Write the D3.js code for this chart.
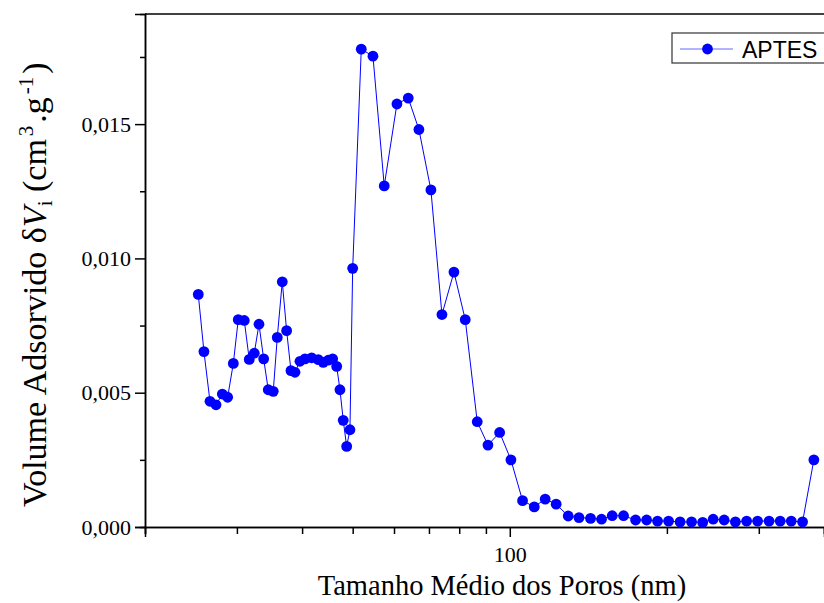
<!DOCTYPE html>
<html>
<head>
<meta charset="utf-8">
<script src="https://cdn.jsdelivr.net/npm/d3@7"></script>
<style>
  html, body { margin: 0; padding: 0; background: #fff; }
  svg { display: block; }
</style>
</head>
<body>
<svg id="chart" width="824" height="603"></svg>
<script>
// Mean pore size (nm) and adsorbed volume dV (cm3/g) for the APTES sample
const poreSize = [
  25.30, 25.94, 26.64, 27.36, 28.13, 28.80, 29.53, 30.18, 30.99, 31.68,
  32.39, 33.07, 33.76, 34.45, 35.22, 35.85, 36.65, 37.36, 38.08, 38.76,
  39.62, 40.51, 41.72, 42.96, 43.91, 44.89, 45.77, 46.59, 47.27, 47.96,
  48.69, 49.40, 50.00, 51.93, 54.68, 57.47, 60.78, 63.89, 66.97, 70.61,
  74.13, 78.16, 82.16, 86.62, 90.81, 95.62, 100.5, 105.8, 111.4, 116.9,
  122.7, 129.4, 135.7, 142.8, 149.9, 157.1, 165.2, 174.2, 182.9, 191.9,
  201.5, 212.0, 223.0, 234.2, 245.3, 257.5, 270.6, 284.3, 298.4, 313.9,
  329.7, 346.2, 363.9, 382.5
];
const adsorbedVolume = [
  0.00866, 0.00653, 0.00468, 0.00455, 0.00495, 0.00483, 0.00609, 0.00772, 0.00769, 0.00624,
  0.00647, 0.00755, 0.00626, 0.00511, 0.00505, 0.00706, 0.00913, 0.00731, 0.00582, 0.00576,
  0.00617, 0.00626, 0.00630, 0.00623, 0.00613, 0.00621, 0.00626, 0.00598, 0.00511, 0.00397,
  0.00300, 0.00362, 0.00963, 0.01779, 0.01753, 0.01270, 0.01575, 0.01597, 0.01480, 0.01255,
  0.00791, 0.00949, 0.00772, 0.00392, 0.00305, 0.00352, 0.00250, 0.00098, 0.00075, 0.00104,
  0.00085, 0.00041, 0.00035, 0.00032, 0.00029, 0.00042, 0.00042, 0.00026, 0.00026, 0.00022,
  0.00022, 0.00019, 0.00019, 0.00017, 0.00029, 0.00026, 0.00019, 0.00022, 0.00022, 0.00022,
  0.00022, 0.00022, 0.00019, 0.00250
];
const seriesName = "APTES";

// Axis ticks
const xMajorTicks = [100];
const xMinorTicks = [20, 30, 40, 50, 60, 70, 80, 90, 200, 300, 400];
const yMajorTicks = [0, 0.005, 0.010, 0.015];
const yMinorTicks = [0.0025, 0.0075, 0.0125, 0.0175];
const xDomain = [20, 400];
const yDomain = [0, 0.0191];

const svg = d3.select("#chart");
const W = 824, H = 603;
const margin = { left: 145, top: 14, right: 0, bottom: 76 };
const plotW = W - margin.left - margin.right;
const plotH = H - margin.top - margin.bottom;

const x = d3.scaleLog().domain(xDomain).range([margin.left, margin.left + plotW]);
const y = d3.scaleLinear().domain(yDomain).range([margin.top + plotH, margin.top]);

const blue = "#0000ff";
const serif = "'Liberation Serif', 'Times New Roman', serif";
const fmt = v => d3.format(".3f")(v).replace(".", ",");

// Axes
const axisG = svg.append("g");

const xMinor = axisG.append("g")
  .attr("transform", `translate(0,${margin.top + plotH})`)
  .call(d3.axisBottom(x).tickValues(xMinorTicks).tickSize(7).tickFormat(""));
const xMajor = axisG.append("g")
  .attr("transform", `translate(0,${margin.top + plotH})`)
  .call(d3.axisBottom(x).tickValues(xMajorTicks).tickSize(10).tickPadding(9).tickFormat(d3.format("d")));

const yMinor = axisG.append("g")
  .attr("transform", `translate(${margin.left},0)`)
  .call(d3.axisLeft(y).tickValues(yMinorTicks).tickSize(5).tickFormat(""));
const yMajor = axisG.append("g")
  .attr("transform", `translate(${margin.left},0)`)
  .call(d3.axisLeft(y).tickValues(yMajorTicks).tickSize(10).tickPadding(4).tickFormat(fmt));

[xMinor, xMajor, yMinor, yMajor].forEach(g => {
  g.attr("font-family", null);
  g.select(".domain").attr("stroke", "#000").attr("stroke-width", 1.5);
  g.selectAll(".tick line").attr("stroke", "#000").attr("stroke-width", 1.5);
  g.selectAll(".tick text")
    .attr("fill", "#000")
    .style("font-family", serif)
    .style("font-size", "22px");
});

// Top frame line
axisG.append("line")
  .attr("x1", margin.left).attr("x2", margin.left + plotW)
  .attr("y1", margin.top).attr("y2", margin.top)
  .attr("stroke", "#000").attr("stroke-width", 1.5);

// Axis titles
svg.append("text")
  .attr("x", 502)
  .attr("y", 595)
  .attr("text-anchor", "middle")
  .style("font-family", serif)
  .style("font-size", "28.5px")
  .text("Tamanho Médio dos Poros (nm)");

// Rotated y title, laid out from the bottom upwards
const yTitle = svg.append("text")
  .attr("transform", "translate(46,507) rotate(-90)")
  .attr("text-anchor", "start")
  .style("font-family", serif)
  .style("font-size", "34px");
yTitle.append("tspan").text("Volume Adsorvido δ");
yTitle.append("tspan").style("font-style", "italic").text("V");
yTitle.append("tspan").attr("dy", 6).style("font-size", "21px").text("i");
yTitle.append("tspan").attr("dy", -6).text(" (cm");
yTitle.append("tspan").attr("dy", -13).attr("dx", 3).style("font-size", "21px").text("3");
yTitle.append("tspan").attr("dy", 13).attr("dx", 3).text(".g");
yTitle.append("tspan").attr("dy", -13).attr("dx", 3).style("font-size", "21px").text("-1");
yTitle.append("tspan").attr("dy", 13).attr("dx", 3).text(")");

// Series
const data = poreSize.map((d, i) => ({ x: d, y: adsorbedVolume[i] }));

svg.append("path")
  .datum(data)
  .attr("fill", "none")
  .attr("stroke", blue)
  .attr("stroke-width", 1)
  .attr("d", d3.line().x(d => x(d.x)).y(d => y(d.y)));

svg.append("g")
  .selectAll("circle")
  .data(data)
  .join("circle")
  .attr("cx", d => x(d.x))
  .attr("cy", d => y(d.y))
  .attr("r", 5.4)
  .attr("fill", blue);

// Legend
const legend = svg.append("g").attr("transform", "translate(672,33)");
legend.append("rect")
  .attr("width", 160).attr("height", 30)
  .attr("fill", "#fff").attr("stroke", "#333").attr("stroke-width", 1.2);
legend.append("line")
  .attr("x1", 8).attr("x2", 61).attr("y1", 16).attr("y2", 16)
  .attr("stroke", blue).attr("stroke-width", 1).attr("stroke-opacity", 0.6);
legend.append("circle").attr("cx", 35.5).attr("cy", 16).attr("r", 5.4).attr("fill", blue);
legend.append("text")
  .attr("x", 70).attr("y", 24.5)
  .style("font-family", "'Liberation Sans', Arial, sans-serif")
  .style("font-size", "23px")
  .text(seriesName);
</script>
</body>
</html>
